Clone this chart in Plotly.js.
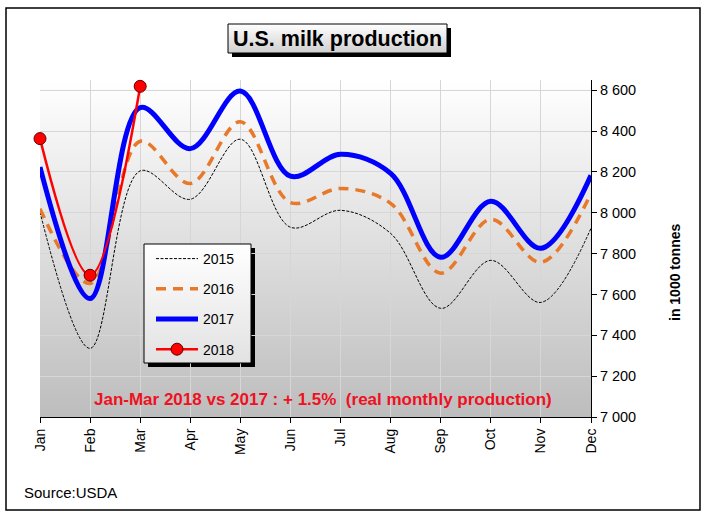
<!DOCTYPE html>
<html><head><meta charset="utf-8">
<script src="https://cdn.plot.ly/plotly-3.0.1.min.js"></script>
<style>html,body{margin:0;padding:0;background:#fff}#chart{width:706px;height:515px}</style>
</head><body><div id="chart"></div>
<script>
// ---- data ----
const months = ['Jan','Feb','Mar','Apr','May','Jun','Jul','Aug','Sep','Oct','Nov','Dec'];
const prod2015 = [8004, 7336, 8205, 8066, 8360, 7929, 8012, 7899, 7532, 7767, 7561, 7924];
const prod2016 = [8020, 7654, 8350, 8143, 8445, 8050, 8119, 8046, 7704, 7968, 7757, 8095];
const prod2017 = [8224, 7580, 8515, 8314, 8596, 8179, 8286, 8193, 7782, 8056, 7826, 8183];
const prod2018 = [8363, 7694, 8619];
const months2018 = months.slice(0, 3);
const yTicks = [7000, 7200, 7400, 7600, 7800, 8000, 8200, 8400, 8600];
const titleText = 'U.S. milk production';
const noteText = 'Jan-Mar 2018 vs 2017 : + 1.5%\u00a0\u00a0(real monthly production)';
const unitText = 'in 1000 tonnes';
const sourceText = 'Source:USDA';

// ---- geometry helpers (pixel -> paper) ----
const W = 706, H = 515, ML = 40, MR = 115, MT = 80, MB = 98;
const PW = W - ML - MR, PH = H - MT - MB;
const px = x => (x - ML) / PW;
const py = y => (H - MB - y) / PH;
const FONT = 'Arial, "Liberation Sans", sans-serif';

function gradSrc(top, bottom) {
  const svg = "<svg xmlns='http://www.w3.org/2000/svg' width='10' height='100' viewBox='0 0 10 100' preserveAspectRatio='none'>" +
    "<defs><linearGradient id='g' x1='0' y1='0' x2='0' y2='1'>" +
    "<stop offset='0' stop-color='" + top + "'/><stop offset='1' stop-color='" + bottom + "'/>" +
    "</linearGradient></defs><rect x='0' y='0' width='10' height='100' fill='url(#g)'/></svg>";
  return 'data:image/svg+xml;charset=utf-8,' + encodeURIComponent(svg);
}
function boxImage(x0, y0, x1, y1, top, bottom, layer) {
  return {source: gradSrc(top, bottom), xref: 'paper', yref: 'paper',
    x: px(x0), y: py(y0), sizex: px(x1) - px(x0), sizey: py(y0) - py(y1),
    xanchor: 'left', yanchor: 'top', sizing: 'stretch', layer: layer};
}
function rect(x0, y0, x1, y1, opts) {
  return Object.assign({type: 'rect', xref: 'paper', yref: 'paper',
    x0: px(x0), x1: px(x1), y0: py(y1), y1: py(y0)}, opts);
}

const traces = [
  {x: months, y: prod2015, name: '2015', type: 'scatter', mode: 'lines', legendgroup: 'a',
   line: {color: '#000000', width: 1, dash: '3px,1.5px', shape: 'spline', smoothing: 1}},
  {x: months, y: prod2016, name: '2016', type: 'scatter', mode: 'lines', legendgroup: 'b',
   line: {color: '#E8782A', width: 3.5, dash: '10px,7px', shape: 'spline', smoothing: 1}},
  {x: months, y: prod2017, name: '2017', type: 'scatter', mode: 'lines', legendgroup: 'c',
   line: {color: '#0000FF', width: 5, shape: 'spline', smoothing: 1}},
  {x: months2018, y: prod2018, name: '2018', type: 'scatter', mode: 'lines+markers', legendgroup: 'd',
   cliponaxis: false,
   line: {color: '#FF0000', width: 2.5, shape: 'spline', smoothing: 1},
   marker: {color: '#FF0000', size: 12, line: {color: '#600000', width: 1}}}
];

const layout = {
  width: W, height: H,
  margin: {l: ML, r: MR, t: MT, b: MB, pad: 0},
  paper_bgcolor: '#ffffff', plot_bgcolor: 'rgba(0,0,0,0)',
  font: {family: FONT, color: '#000000', size: 14},
  separators: ', ',
  showlegend: true,
  xaxis: {type: 'category', range: [0, 11], tickangle: -90,
    showgrid: true, gridcolor: '#d6d6d6', gridwidth: 1,
    showline: true, linecolor: '#000000', linewidth: 1,
    ticks: 'outside', ticklen: 5, tickcolor: '#000000',
    tickfont: {family: FONT, size: 14, color: '#000000'}, zeroline: false, fixedrange: true},
  yaxis: {range: [7000, 8650], side: 'right', tickvals: yTicks, tickformat: ',d',
    tickprefix: '\u2009\u2009',
    showgrid: true, gridcolor: '#d6d6d6', gridwidth: 1,
    showline: true, linecolor: '#000000', linewidth: 1,
    ticks: 'outside', ticklen: 5, tickcolor: '#000000',
    tickfont: {family: FONT, size: 14.5, color: '#000000'}, zeroline: false, fixedrange: true},
  legend: {x: px(151), y: py(243), xanchor: 'left', yanchor: 'top',
    bgcolor: 'rgba(0,0,0,0)', borderwidth: 0, traceorder: 'grouped', tracegroupgap: 9,
    itemwidth: 42, font: {family: FONT, size: 14, color: '#000000'}},
  images: [
    boxImage(ML, MT, W - MR, H - MB, '#ffffff', '#bdbdbd', 'below'),
    boxImage(228, 24, 447, 53, '#ffffff', '#cfcfcf', 'above'),
    boxImage(144, 244, 251, 363, '#ffffff', '#e2e2e2', 'above')
  ],
  shapes: [
    rect(232, 28, 451, 57, {layer: 'below', fillcolor: '#000000', line: {width: 0}}),
    rect(228, 24, 447, 53, {layer: 'above', fillcolor: 'rgba(0,0,0,0)', line: {color: '#000000', width: 1}}),
    rect(148, 248, 255, 367, {layer: 'between', fillcolor: '#000000', line: {width: 0}}),
    rect(144, 244, 251, 363, {layer: 'above', fillcolor: 'rgba(0,0,0,0)', line: {color: '#000000', width: 1}}),
    rect(6, 8, 700, 510, {layer: 'above', fillcolor: 'rgba(0,0,0,0)', line: {color: '#000000', width: 1.5}})
  ],
  annotations: [
    {text: '<b>' + titleText + '</b>', xref: 'paper', yref: 'paper', x: px(337.5), y: py(39),
     xanchor: 'center', yanchor: 'middle', showarrow: false, font: {family: FONT, size: 21.5, color: '#000000'}},
    {text: '<b>' + noteText + '</b>', xref: 'paper', yref: 'paper', x: px(323), y: py(399),
     xanchor: 'center', yanchor: 'middle', showarrow: false, font: {family: FONT, size: 17, color: '#EE1122'}},
    {text: '<b>' + unitText + '</b>', xref: 'paper', yref: 'paper', x: px(675), y: py(273),
     xanchor: 'center', yanchor: 'middle', textangle: -90, showarrow: false, font: {family: FONT, size: 14, color: '#000000'}},
    {text: sourceText, xref: 'paper', yref: 'paper', x: px(22), y: py(492),
     xanchor: 'left', yanchor: 'middle', showarrow: false, font: {family: FONT, size: 15, color: '#000000'}}
  ]
};

Plotly.newPlot('chart', traces, layout, {displayModeBar: false, staticPlot: true});
</script>
</body></html>
